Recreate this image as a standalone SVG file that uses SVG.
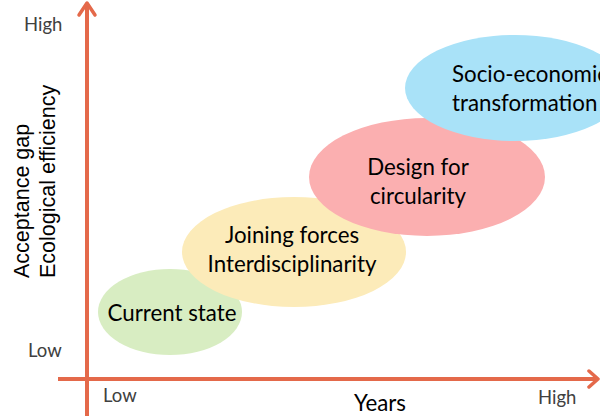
<svg xmlns="http://www.w3.org/2000/svg" width="600" height="416" viewBox="0 0 600 416">
  <style>
    .stage { font-family: Lato, "Open Sans", sans-serif; font-size: 22.3px; fill: #000; text-anchor: middle; }
    .tick { font-family: Lato, "Open Sans", sans-serif; font-size: 18.5px; fill: #404040; }
    .axis { stroke: #E4694A; stroke-width: 4; fill: none; }
    .head { stroke: #E4694A; stroke-width: 3.5; fill: none; stroke-linecap: round; stroke-linejoin: round; }
    .ylab { font-family: "Liberation Sans", Arial, sans-serif; font-size: 21.5px; fill: #000; }
  </style>
  <rect width="600" height="416" fill="#fff"/>

  <!-- stages -->
  <g id="current-state">
    <ellipse cx="170" cy="312" rx="72" ry="43" fill="#D8EDC2"/>
    <text class="stage" x="172" y="321">Current state</text>
  </g>
  <g id="joining-forces">
    <ellipse cx="294" cy="252" rx="112" ry="55" fill="#FCEBB9"/>
    <text class="stage" x="292" y="243">Joining forces</text>
    <text class="stage" x="292" y="272">Interdisciplinarity</text>
  </g>
  <g id="design-for-circularity">
    <ellipse cx="427" cy="177" rx="118" ry="59" fill="#FBAFB0"/>
    <text class="stage" x="418" y="175">Design for</text>
    <text class="stage" x="418" y="204">circularity</text>
  </g>
  <g id="socio-economic">
    <ellipse cx="515" cy="88" rx="110" ry="53" fill="#A9E2F8"/>
    <text class="stage" x="452" y="82" style="text-anchor:start">Socio-economic</text>
    <text class="stage" x="452" y="111" style="text-anchor:start">transformation</text>
  </g>

  <!-- axes -->
  <g id="connectors">
    <line class="axis" x1="87" y1="4" x2="87" y2="416"/>
    <polyline class="head" points="79,15 87,3 95,15"/>
    <line class="axis" x1="58" y1="379" x2="597" y2="379"/>
    <polyline class="head" points="589,371 598,379 589,387"/>
  </g>

  <!-- axis labels -->
  <text class="tick" x="24" y="31">High</text>
  <text class="tick" x="28" y="357">Low</text>
  <text class="tick" x="103" y="402">Low</text>
  <text class="tick" x="538" y="404">High</text>
  <text class="stage" x="380" y="411">Years</text>
  <text class="ylab" transform="translate(29,278) rotate(-90)">Acceptance gap</text>
  <text class="ylab" transform="translate(55,278) rotate(-90)">Ecological efficiency</text>
</svg>
